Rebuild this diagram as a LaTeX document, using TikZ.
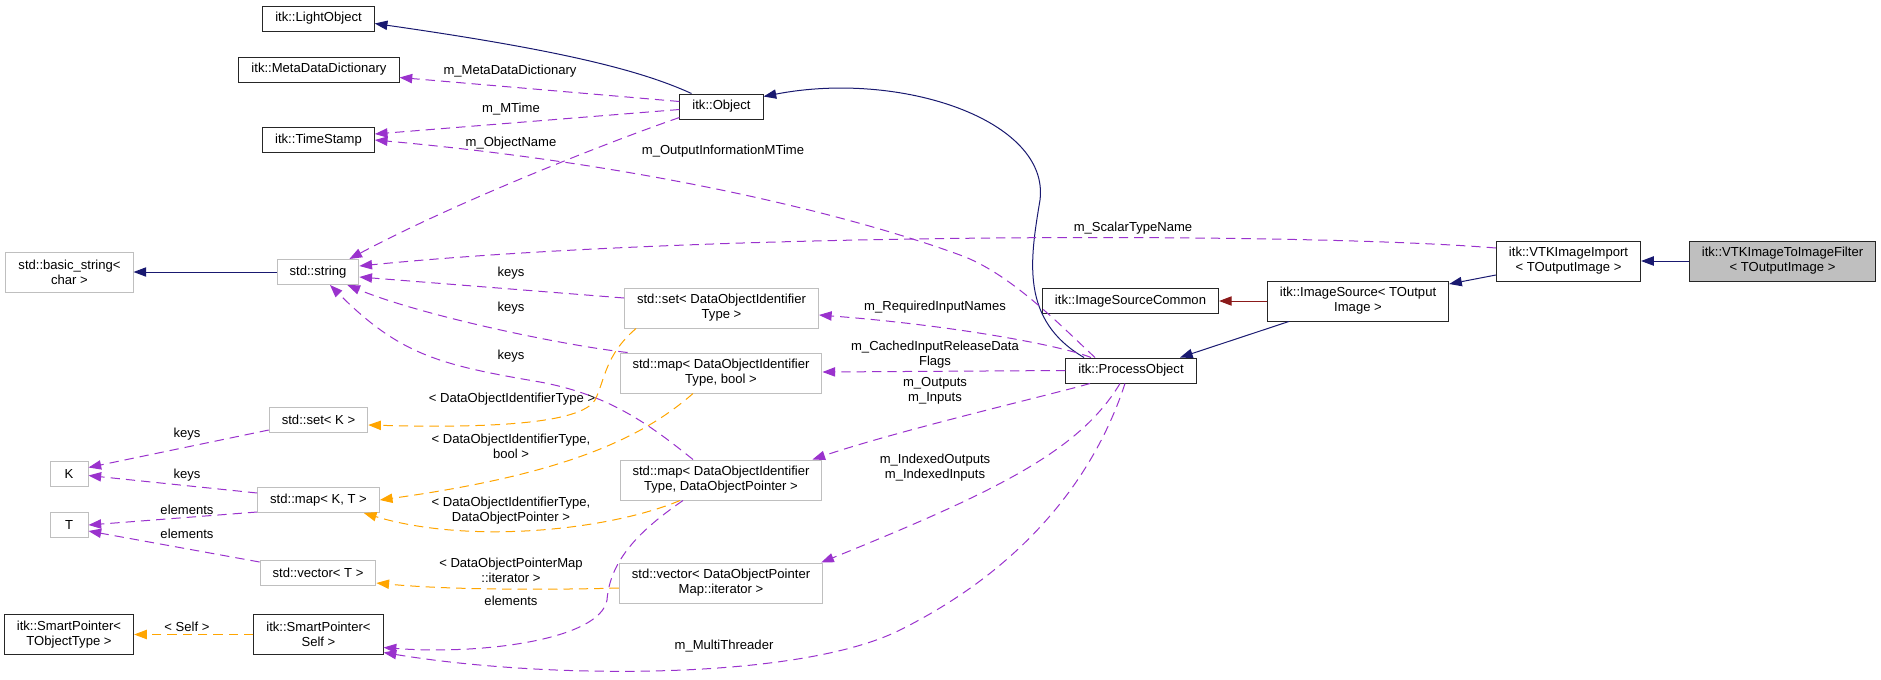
\documentclass[tikz,border=0pt]{standalone}
\usepackage{fontspec}
\setmainfont{Liberation Sans}
\usetikzlibrary{arrows.meta}
\definecolor{edgeblue}{HTML}{191970}
\definecolor{edgepurple}{HTML}{9A32CD}
\definecolor{edgeorange}{HTML}{FFA500}
\definecolor{edgered}{HTML}{8B1A1A}
\definecolor{boxgray}{HTML}{BFBFBF}

\begin{document}
\begin{tikzpicture}[x=0.75pt,y=-0.75pt,
  every node/.style={font=\fontsize{9.8}{11.25}\selectfont,align=center},
  box/.style={draw,line width=0.75pt,inner xsep=9.4pt,inner ysep=3pt,minimum height=18.75pt},
  cls/.style={box,draw=black!85},
  ext/.style={box,draw=boxgray},
  two/.style={minimum height=30pt},
  tip/.style={-{Triangle[length=9.5pt,width=7pt]},line width=0.75pt},
  inh/.style={tip,edgeblue},
  rel/.style={tip,edgepurple,dash pattern=on 7pt off 4.5pt},
  tpl/.style={tip,edgeorange,dash pattern=on 7pt off 4.5pt},
  lbl/.style={inner sep=0pt}]
  \useasboundingbox (0,0) rectangle (1881,679);

  \node[cls] (lightobj) at (318.5,18.5) {itk::LightObject};
  \node[cls] (metadict) at (319,69.5) {itk::MetaDataDictionary};
  \node[cls] (timestamp) at (318.5,140) {itk::TimeStamp};
  \node[cls] (object) at (721.5,106.5) {itk::Object};
  \node[ext,two] (basicstr) at (69.5,272) {std::basic\_string<\\char >};
  \node[ext] (stdstring) at (318,272) {std::string};
  \node[ext] (setK) at (318.5,420) {std::set< K >};
  \node[ext,minimum width=28.5pt] (K) at (69,473.5) {K};
  \node[ext] (mapKT) at (318.5,500) {std::map< K, T >};
  \node[ext,minimum width=28.5pt] (T) at (69,525) {T};
  \node[ext] (vecT) at (318,573) {std::vector< T >};
  \node[cls,two] (sptobj) at (69,634.5) {itk::SmartPointer<\\TObjectType >};
  \node[cls,two] (spself) at (318.5,634.5) {itk::SmartPointer<\\Self >};
  \node[ext,two] (setdoi) at (721.5,308) {std::set< DataObjectIdentifier\\Type >};
  \node[ext,two] (mapbool) at (721,373) {std::map< DataObjectIdentifier\\Type, bool >};
  \node[ext,two] (mapdop) at (721,480) {std::map< DataObjectIdentifier\\Type, DataObjectPointer >};
  \node[ext,two] (vecdop) at (721,583) {std::vector< DataObjectPointer\\Map::iterator >};
  \node[cls] (procobj) at (1131,370.5) {itk::ProcessObject};
  \node[cls] (isc) at (1130.5,301) {itk::ImageSourceCommon};
  \node[cls,two] (imgsrc) at (1358,301) {itk::ImageSource< TOutput\\Image >};
  \node[cls,two] (vtkimport) at (1568.5,261) {itk::VTKImageImport\\< TOutputImage >};
  \node[cls,two,fill=boxgray] (vtkfilter) at (1782.5,261) {itk::VTKImageToImageFilter\\< TOutputImage >};

  \draw[inh] (vtkfilter) -- (vtkimport);
  \draw[inh] ([shift={(0,14)}]vtkimport.west) -- ([shift={(0,-17)}]imgsrc.east);
  \draw[tip,edgered] (imgsrc) -- (isc);
  \draw[inh] ([shift={(22,0)}]imgsrc.south west) -- ([shift={(49,0)}]procobj.north);
  \draw[inh] ([shift={(-47,0)}]procobj.north) .. controls (1020,320) and (1030,260) .. (1040,200)
    .. controls (1050,120) and (900,70) .. ([shift={(0,-10)}]object.east);
  \draw[inh] ([shift={(-30,0)}]object.north) .. controls (640,70) and (560,50) .. ([shift={(0,5)}]lightobj.east);
  \draw[inh] (stdstring) -- (basicstr);
  \draw[tpl] (spself) -- (sptobj);

  \draw[rel] ([shift={(0,-5)}]object.west) -- ([shift={(0,8)}]metadict.east);
  \draw[rel] ([shift={(0,3)}]object.west) -- ([shift={(0,-6)}]timestamp.east);
  \draw[rel] ([shift={(0,11)}]object.west) .. controls (600,145) and (450,205) .. ([shift={(-10,0)}]stdstring.north east);
  \draw[rel] ([shift={(-36,0)}]procobj.north) .. controls (1060,325) and (1010,273) .. (960,255)
    .. controls (850,215) and (650,165) .. (timestamp.east);
  \draw[rel] ([shift={(0,-13)}]vtkimport.west) .. controls (1300,232) and (700,232) .. ([shift={(0,-6)}]stdstring.east);
  \draw[rel] ([shift={(0,-10)}]setdoi.west) -- ([shift={(0,5)}]stdstring.east);
  \draw[rel] ([shift={(8,0)}]mapbool.north west) .. controls (560,345) and (420,315) .. ([shift={(-12,0)}]stdstring.south east);
  \draw[rel] ([shift={(-28,0)}]mapdop.north) .. controls (650,425) and (610,395) .. (540,382)
    .. controls (440,365) and (400,355) .. ([shift={(12,0)}]stdstring.south);
  \draw[rel] ([shift={(0,10)}]setK.west) -- ([shift={(0,-6)}]K.east);
  \draw[rel] ([shift={(0,-7)}]mapKT.west) -- ([shift={(0,2)}]K.east);
  \draw[rel] ([shift={(0,12)}]mapKT.west) -- (T.east);
  \draw[rel] ([shift={(0,-11)}]vecT.west) -- ([shift={(0,6)}]T.east);
  \draw[rel] ([shift={(-38,0)}]mapdop.south) .. controls (640,530) and (610,560) .. (607,600)
    .. controls (600,640) and (480,655) .. ([shift={(0,13)}]spself.east);
  \draw[rel] ([shift={(-6,0)}]procobj.south) .. controls (1100,460) and (1040,560) .. (900,630)
    .. controls (800,680) and (550,680) .. ([shift={(0,18)}]spself.east);
  \draw[rel] ([shift={(-40,0)}]procobj.north) .. controls (1060,345) and (950,325) .. ([shift={(0,7)}]setdoi.east);
  \draw[rel] (procobj.west) -- ([shift={(0,-1)}]mapbool.east);
  \draw[rel] ([shift={(-41,0)}]procobj.south) .. controls (1050,395) and (900,430) .. ([shift={(-10,0)}]mapdop.north east);
  \draw[rel] ([shift={(-11,0)}]procobj.south) .. controls (1080,450) and (1000,490) .. ([shift={(-2,0)}]vecdop.north east);

  \draw[tpl] ([shift={(12,0)}]setdoi.south west) .. controls (605,355) and (605,380) .. (595,400)
    .. controls (580,425) and (480,428) .. ([shift={(0,5)}]setK.east);
  \draw[tpl] ([shift={(-28,0)}]mapbool.south) .. controls (640,440) and (560,475) .. (mapKT.east);
  \draw[tpl] ([shift={(-41,0)}]mapdop.south) .. controls (610,530) and (470,545) .. ([shift={(-16,0)}]mapKT.south east);
  \draw[tpl] ([shift={(0,5)}]vecdop.west) .. controls (550,590) and (450,590) .. ([shift={(0,10)}]vecT.east);

  \node[lbl] (lmeta) at (510,71) {m\_MetaDataDictionary};
  \node[lbl] (lmtime) at (511,109) {m\_MTime};
  \node[lbl] (lobjname) at (511,143) {m\_ObjectName};
  \node[lbl] (loutinfo) at (723,151) {m\_OutputInformationMTime};
  \node[lbl] (lscalar) at (1133,228) {m\_ScalarTypeName};
  \node[lbl] (lkeys1) at (511,273) {keys};
  \node[lbl] (lkeys2) at (511,308) {keys};
  \node[lbl] (lkeys3) at (511,356) {keys};
  \node[lbl] (ldoit) at (512,399) {< DataObjectIdentifierType >};
  \node[lbl] (ldoibool) at (511,446) {< DataObjectIdentifierType,\\bool >};
  \node[lbl] (ldoidop) at (511,511) {< DataObjectIdentifierType,\\DataObjectPointer >};
  \node[lbl] (ldopmap) at (511,570) {< DataObjectPointerMap\\::iterator >};
  \node[lbl] (lelem3) at (511,601) {elements};
  \node[lbl] (lthread) at (724,646) {m\_MultiThreader};
  \node[lbl] (lkeysK1) at (187,434) {keys};
  \node[lbl] (lkeysK2) at (187,475) {keys};
  \node[lbl] (lelem1) at (187,510) {elements};
  \node[lbl] (lelem2) at (187,534) {elements};
  \node[lbl] (lself) at (187,627) {< Self >};
  \node[lbl] (lreq) at (935,307) {m\_RequiredInputNames};
  \node[lbl] (lcached) at (935,355) {m\_CachedInputReleaseData\\Flags};
  \node[lbl] (lio) at (935,391) {m\_Outputs\\m\_Inputs};
  \node[lbl] (lidx) at (935,468) {m\_IndexedOutputs\\m\_IndexedInputs};
\end{tikzpicture}
\end{document}
